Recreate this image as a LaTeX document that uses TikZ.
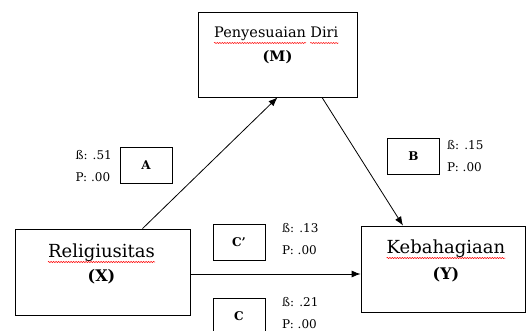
\documentclass[tikz,border=0pt]{standalone}
\usepackage{fontspec}
\setmainfont{DejaVu Serif}
\usetikzlibrary{arrows.meta,positioning,decorations.pathmorphing}

\begin{document}
\begin{tikzpicture}[x=1pt,y=-1pt,
  varbox/.style={draw, line width=0.8pt, minimum width=#1, minimum height=86pt, inner sep=0pt},
  vartext/.style={inner sep=0pt, anchor=base, font=\fontsize{18}{20}\selectfont},
  pathbox/.style={draw, line width=0.8pt, minimum width=52pt, minimum height=36pt, inner sep=0pt, font=\fontsize{12}{14}\selectfont\bfseries},
  coef/.style={align=left, inner sep=0pt, font=\fontsize{12}{22}\selectfont},
  path arrow/.style={draw, line width=0.8pt, -{Latex[length=9pt,width=7pt]}},
  spellwave/.style={draw=red, line width=0.5pt, decorate, decoration={snake, segment length=2.5pt, amplitude=0.6pt}}
]
\useasboundingbox (0,0) rectangle (527,331);
\clip (0,0) rectangle (527,331);
% variables
\node[varbox=159pt, minimum height=85pt] (mbox) at (277.5,54.5) {};
\node[varbox=175pt] (xbox) at (102.5,272) {};
\node[varbox=164pt] (ybox) at (443,269) {};
\node[vartext, anchor=base west, font=\fontsize{14.5}{18}\selectfont] (mword) at (214,38) {Penyesuaian};
\node[vartext, base right=4pt of mword, font=\fontsize{14.5}{18}\selectfont] (mword2) {Diri};
\node[vartext, font=\fontsize{14.5}{18}\selectfont\bfseries] (mletter) at (277.5,62) {(M)};
\node[vartext] (xword) at (101.5,257) {Religiusitas};
\node[vartext, font=\fontsize{16}{18}\selectfont\bfseries] (xletter) at (101.5,281) {(X)};
\node[vartext] (yword) at (446,253) {Kebahagiaan};
\node[vartext, font=\fontsize{16}{18}\selectfont\bfseries] (yletter) at (446,279) {(Y)};
% spelling marks
\foreach \w in {mword,mword2,xword,yword}
  \path[spellwave] ([yshift=-5pt]\w.base west) -- ([yshift=-5pt]\w.base east);
% paths
\node[pathbox] (pa) at (146,165) {A};
\node[pathbox] (pb) at (413.5,156.5) {B};
\node[pathbox] (pcp) at (239,242.5) {C'};
\node[pathbox] (pc) at (239,316.5) {C};
\node[coef, anchor=east] (ca) at (112,166) {ß: .51\\P: .00};
\node[coef, anchor=west] (cb) at (447,156) {ß: .15\\P: .00};
\node[coef, anchor=west] (ccp) at (282,239) {ß: .13\\P: .00};
\node[coef, anchor=west] (cc) at (282,313.5) {ß: .21\\P: .00};
% arrows
\path[path arrow] ([xshift=40pt]xbox.north) -- (mbox.south);
\path[path arrow] ([xshift=44.5pt]mbox.south) -- ([xshift=-40pt]ybox.north);
\path[path arrow] ([yshift=-2pt]xbox.east) -- ([yshift=-2pt]xbox.east -| ybox.west);
\end{tikzpicture}
\end{document}
